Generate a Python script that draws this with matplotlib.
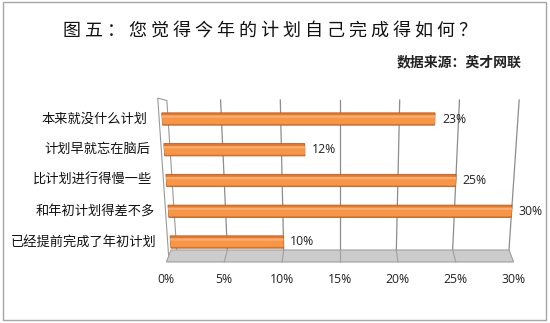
import numpy as np
import matplotlib
matplotlib.use('Agg')
import matplotlib.pyplot as plt
import matplotlib.transforms as mtransforms

plt.rcParams['font.family'] = ['Noto Sans CJK SC', 'DejaVu Sans']

# ## Data

categories = ['本来就没什么计划', '计划早就忘在脑后', '比计划进行得慢一些',
              '和年初计划得差不多', '已经提前完成了年初计划']
values = [23, 12, 25, 30, 10]
xticks = [0, 5, 10, 15, 20, 25, 30]
xticklabels = ['0%', '5%', '10%', '15%', '20%', '25%', '30%']
title = '图五：您觉得今年的计划自己完成得如何？'
source = '数据来源：英才网联'


# ## A small perspective: rows lower down are drawn a bit narrower

class Persp(mtransforms.Transform):
    input_dims = 2
    output_dims = 2

    def transform_non_affine(self, xy):
        xy = np.asarray(xy, dtype=float)
        f = 1 - 0.012 * (xy[:, 1] - 2)
        return np.column_stack([15 + (xy[:, 0] - 15) * f, xy[:, 1]])


fig = plt.figure(figsize=(5.5, 3.23), dpi=100)
ax = fig.add_axes([0.3024, 0.1889, 0.6316, 0.5015])
ax.set_xlim(0, 30)
ax.set_ylim(4.65, -0.618)
for s in ax.spines.values():
    s.set_visible(False)
ax.set_yticks([])
ax.set_xticks(xticks)
ax.set_xticklabels(xticklabels, family='Open Sans', fontsize=8.8, color='#222222')
ax.tick_params(length=0, pad=8)

tr = Persp() + ax.transData
top, back, front = -0.618, 4.26, 4.65

# left wall
wall = plt.Polygon([(-0.25, -0.68), (0.5, -0.6), (0.5, back), (-0.25, 4.6)],
                   closed=True, facecolor='white', edgecolor='#9a9a9a', lw=0.8,
                   transform=tr, clip_on=False, zorder=1)
ax.add_patch(wall)

# back wall grid lines
for v in xticks[1:]:
    ax.plot([v, v], [top, back], transform=tr, color='#8c8c8c', lw=0.9,
            clip_on=False, zorder=1)

# floor
bx0 = Persp().transform([[0, back]])[0, 0]
bx1 = Persp().transform([[30, back]])[0, 0]
ax.fill([bx0, bx1, 30, 0], [back, back, front, front], facecolor='#cccccc',
        edgecolor='#a0a0a0', lw=0.8, clip_on=False, zorder=2)
for v in xticks[1:-1]:
    bx = Persp().transform([[v, back]])[0, 0]
    ax.plot([bx, v], [back, front], color='#a0a0a0', lw=0.8, clip_on=False, zorder=2)

# bars (cylinder look from stacked layers)
y = np.arange(len(values))
ax.barh(y, values, height=0.40, color='#e07a32', edgecolor='#b85f27', lw=0.6,
        transform=tr, clip_on=False, zorder=3)
ax.barh(y + 0.02, values, height=0.28, color='#f79646', lw=0, transform=tr,
        clip_on=False, zorder=4)
ax.barh(y - 0.08, values, height=0.07, color='#f9ad74', lw=0, transform=tr,
        clip_on=False, zorder=5)

for i, (c, v) in enumerate(zip(categories, values)):
    ax.text(-1.2, i, c, transform=tr, ha='right', va='center', fontsize=9.5,
            color='#111111')
    ax.text(v + 0.6, i, f'{v}%', transform=tr, ha='left', va='center',
            family='Open Sans', fontsize=8.8, color='#222222', zorder=6)

fig.text(0.491, 0.901, ' '.join(title), ha='center', va='center', fontsize=13,
         color='#111111')
fig.text(0.949, 0.806, source, ha='right', va='center', fontsize=10,
         fontweight='bold', color='#222222')

fig.add_artist(plt.Rectangle((0.0055, 0.0093), 0.9872, 0.9845, transform=fig.transFigure,
                             fill=False, edgecolor='#a6a6a6', lw=1))

fig.savefig('out.png', dpi=100)
